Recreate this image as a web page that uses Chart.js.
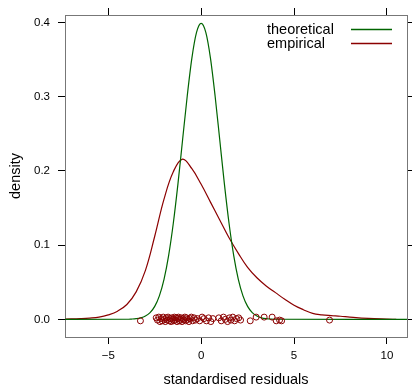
<!DOCTYPE html>
<html>
<head>
<meta charset="utf-8">
<script src="https://cdn.jsdelivr.net/npm/chart.js@4.4.1/dist/chart.umd.min.js"></script>
<style>
  html, body { margin: 0; padding: 0; background: #fff; }
  canvas { display: block; }
</style>
</head>
<body>
<canvas id="c" width="412" height="387"></canvas>
<script>
// tick values
const xTicks = [-5, 0, 5, 10];
const yTicks = [0, 0.1, 0.2, 0.3, 0.4];

// theoretical density (standard normal)
const theoX = [-7.33, -4, -3.75, -3.5, -3.25, -3, -2.75, -2.5, -2.25, -2, -1.75, -1.5, -1.25, -1, -0.75, -0.5, -0.25, 0,
               0.25, 0.5, 0.75, 1, 1.25, 1.5, 1.75, 2, 2.25, 2.5, 2.75, 3, 3.25, 3.5, 3.75, 4, 11.08];
const theoY = [0, 0.0001, 0.0004, 0.0009, 0.0020, 0.0044, 0.0091, 0.0175, 0.0317, 0.0540, 0.0863, 0.1295, 0.1826, 0.2420, 0.3011, 0.3521, 0.3867, 0.3989,
               0.3867, 0.3521, 0.3011, 0.2420, 0.1826, 0.1295, 0.0863, 0.0540, 0.0317, 0.0175, 0.0091, 0.0044, 0.0020, 0.0009, 0.0004, 0.0001, 0];

// empirical density
const empX = [-7.3, -6.5, -6, -5.5, -5, -4.5, -4, -3.5, -3, -2.5, -2, -1.5, -1, -0.5, 0, 0.5, 1, 1.5, 2, 2.5, 3, 3.5, 4, 4.5, 5, 5.5, 6, 6.5, 7, 7.5, 8, 9, 10, 10.5];
const empY = [0.0003, 0.001, 0.0017, 0.003, 0.006, 0.011, 0.020, 0.037, 0.066, 0.112, 0.162, 0.199, 0.216, 0.203, 0.182, 0.158, 0.134, 0.110, 0.089, 0.070, 0.056, 0.045, 0.036, 0.027, 0.019, 0.013, 0.008, 0.006, 0.005, 0.0042, 0.003, 0.0012, 0.0003, 0];

// residuals shown as rug of circles (x) with small vertical jitter (y)
const rugX = [-3.27, -2.42, -2.35, -2.28, -2.22, -2.15, -2.1, -2.04, -1.98, -1.93, -1.88, -1.83, -1.78, -1.72, -1.67, -1.62,
              -1.58, -1.53, -1.48, -1.44, -1.4, -1.35, -1.3, -1.26, -1.22, -1.17, -1.12, -1.08, -1.03, -0.98, -0.93, -0.88,
              -0.83, -0.78, -0.72, -0.66, -0.6, -0.53, -0.46, -0.38, -0.3, -0.2, -0.08, 0.05, 0.15, 0.28, 0.4, 0.52, 0.63,
              0.95, 1.08, 1.2, 1.3, 1.42, 1.52, 1.6, 1.7, 1.8, 1.9, 2.02, 2.12, 2.64, 2.96, 3.39, 3.82, 4.04, 4.22, 4.33, 6.91];
const rugY = [-0.002, 0.002, -0.001, 0.003, -0.003, 0.001, -0.002, 0.003, 0.000, -0.003, 0.002, -0.001, 0.003, -0.002, 0.001, -0.003,
              0.002, 0.000, -0.002, 0.003, -0.001, 0.002, -0.003, 0.001, 0.003, -0.002, 0.000, 0.002, -0.003, 0.001, -0.001, 0.003,
              -0.002, 0.002, 0.000, -0.003, 0.001, 0.003, -0.002, 0.002, -0.001, 0.001, -0.002, 0.003, 0.001, -0.002, 0.002, -0.003, 0.001,
              0.002, -0.002, 0.003, 0.000, -0.003, 0.002, -0.001, 0.003, -0.002, 0.001, 0.002, -0.001, -0.002, 0.003, 0.003, 0.003, -0.002, -0.001, -0.002, -0.001];

const GREEN = '#006400';
const RED = '#8b0000';
const FONT = '"Liberation Sans", Arial, Helvetica, sans-serif';

function pairs(xs, ys) {
    return xs.map((x, i) => ({ x: x, y: ys[i] }));
}

function minusLabel(v) {
    return v < 0 ? '\u2212' + Math.abs(v) : String(v);
}

const legendItems = [
    { text: 'theoretical', color: GREEN },
    { text: 'empirical', color: RED }
];

// lattice style key in the top right corner of the panel
const keyPlugin = {
    id: 'latticeKey',
    afterDatasetsDraw(chart) {
        const ctx = chart.ctx;
        const area = chart.chartArea;
        ctx.save();
        ctx.font = '14.5px ' + FONT;
        ctx.textAlign = 'left';
        ctx.textBaseline = 'middle';
        legendItems.forEach((item, i) => {
            const y = area.top + 15 + i * 14;
            ctx.fillStyle = '#000';
            ctx.fillText(item.text, area.right - 140, y);
            ctx.strokeStyle = item.color;
            ctx.lineWidth = 1.3;
            ctx.beginPath();
            ctx.moveTo(area.right - 56, y - 0.5);
            ctx.lineTo(area.right - 15, y - 0.5);
            ctx.stroke();
        });
        ctx.restore();
    }
};

function sideScale(position, axis, ticks, size, extra) {
    return Object.assign({
        type: 'linear',
        position: position,
        axis: axis,
        afterBuildTicks: s => { s.ticks = ticks.map(v => ({ value: v })); },
        afterFit: s => {
            if (axis === 'x') s.height = size; else s.width = size;
        },
        grid: { drawOnChartArea: false, drawTicks: true, tickLength: 7, tickColor: '#000', tickWidth: 1 },
        border: { display: true, color: '#777', width: 1 },
        ticks: { display: false }
    }, extra);
}

new Chart(document.getElementById('c'), {
    data: {
        datasets: [
            {
                type: 'scatter',
                label: 'residuals',
                data: pairs(rugX, rugY),
                borderColor: RED,
                backgroundColor: 'rgba(0,0,0,0)',
                borderWidth: 1,
                pointRadius: 3,
                pointHoverRadius: 3
            },
            {
                type: 'line',
                label: 'theoretical',
                data: pairs(theoX, theoY),
                borderColor: GREEN,
                borderWidth: 1.2,
                pointRadius: 0,
                cubicInterpolationMode: 'monotone',
                fill: false
            },
            {
                type: 'line',
                label: 'empirical',
                data: pairs(empX, empY),
                borderColor: RED,
                borderWidth: 1.2,
                pointRadius: 0,
                tension: 0.4,
                fill: false
            }
        ]
    },
    options: {
        responsive: false,
        devicePixelRatio: 1,
        animation: false,
        events: [],
        layout: { padding: 0 },
        plugins: {
            legend: { display: false },
            tooltip: { enabled: false }
        },
        scales: {
            x: sideScale('bottom', 'x', xTicks, 50, {
                min: -7.33, max: 11.08,
                ticks: { display: true, color: '#000', padding: 5, maxRotation: 0, autoSkip: false,
                         font: { family: FONT, size: 11.5 }, callback: v => minusLabel(v) },
                title: { display: true, text: 'standardised residuals', color: '#000',
                         font: { family: FONT, size: 14.5, lineHeight: 1 }, padding: { top: 0, bottom: 0 } }
            }),
            x2: sideScale('top', 'x', xTicks, 15, { min: -7.33, max: 11.08 }),
            y: sideScale('left', 'y', yTicks, 65, {
                min: -0.0238, max: 0.4102,
                ticks: { display: true, color: '#000', padding: 8, autoSkip: false,
                         font: { family: FONT, size: 11.5 }, callback: v => v.toFixed(1) },
                title: { display: true, text: 'density', color: '#000',
                         font: { family: FONT, size: 14.5 }, padding: { top: 7, bottom: 0 } }
            }),
            y2: sideScale('right', 'y', yTicks, 5, { min: -0.0238, max: 0.4102 })
        }
    },
    plugins: [keyPlugin]
});
</script>
</body>
</html>
